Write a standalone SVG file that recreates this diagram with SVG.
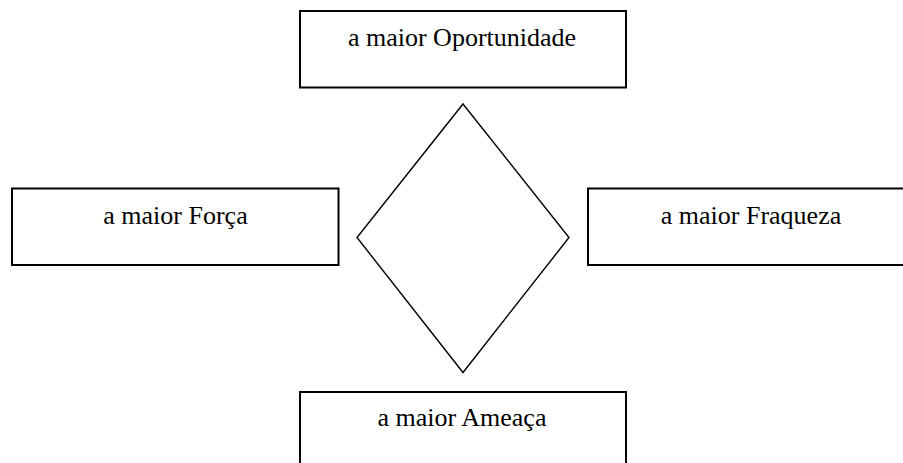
<svg xmlns="http://www.w3.org/2000/svg" width="903" height="463" viewBox="0 0 903 463">
<style>
.box{fill:#fff;stroke:#000;stroke-width:2}
.lbl{font-size:26px;fill:#000;text-anchor:middle}
.dia{fill:none;stroke:#000;stroke-width:1.4;stroke-linejoin:miter}
</style>
<rect width="903" height="463" fill="#fff"/>
<g id="oportunidade">
<rect class="box" x="300" y="11" width="326" height="76.5"/>
<text class="lbl" font-family="Liberation Serif, DejaVu Serif, serif" x="462" y="46">a maior Oportunidade</text>
</g>
<g id="forca">
<rect class="box" x="12" y="188.5" width="326.5" height="76.5"/>
<text class="lbl" font-family="Liberation Serif, DejaVu Serif, serif" x="175.5" y="224">a maior Força</text>
</g>
<g id="fraqueza">
<rect class="box" x="588" y="188.5" width="326.5" height="76.5"/>
<text class="lbl" font-family="Liberation Serif, DejaVu Serif, serif" x="751" y="224">a maior Fraqueza</text>
</g>
<g id="ameaca">
<rect class="box" x="300" y="392" width="326" height="80"/>
<text class="lbl" font-family="Liberation Serif, DejaVu Serif, serif" x="462" y="426">a maior Ameaça</text>
</g>
<g id="centro">
<polygon class="dia" points="463,104 569,237.5 463,372.5 357,237.5"/>
</g>
<g id="connectors"></g>
</svg>
